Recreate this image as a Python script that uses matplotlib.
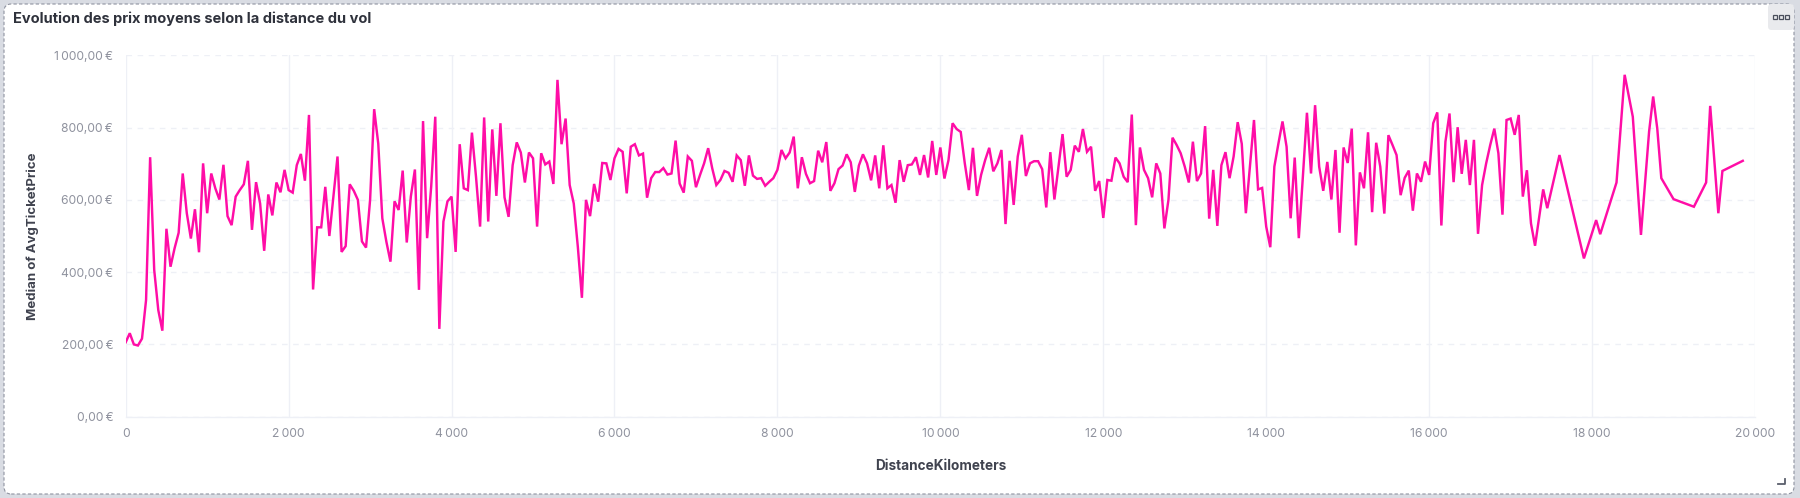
import matplotlib
matplotlib.use("Agg")
import matplotlib.pyplot as plt
from matplotlib.patches import FancyBboxPatch, Rectangle
from matplotlib.ticker import FuncFormatter, FixedLocator

distance_km = [
    0,50,100,150,200,250,300,350,400,450,500,550,600,650,700,750,800,850,900,950,
    1000,1050,1100,1150,1200,1250,1300,1350,1400,1450,1500,1550,1600,1650,1700,1750,1800,1850,1900,1950,
    2000,2050,2100,2150,2200,2250,2300,2350,2400,2450,2500,2550,2600,2650,2700,2750,2800,2850,2900,2950,
    3000,3050,3100,3150,3200,3250,3300,3350,3400,3450,3500,3550,3600,3650,3700,3750,3800,3850,3900,3950,
    4000,4050,4100,4150,4200,4250,4300,4350,4400,4450,4500,4550,4600,4650,4700,4750,4800,4850,4900,4950,
    5000,5050,5100,5150,5200,5250,5300,5350,5400,5450,5500,5550,5600,5650,5700,5750,5800,5850,5900,5950,
    6000,6050,6100,6150,6200,6250,6300,6350,6400,6450,6500,6550,6600,6650,6700,6750,6800,6850,6900,6950,
    7000,7050,7100,7150,7200,7250,7300,7350,7400,7450,7500,7550,7600,7650,7700,7750,7800,7850,7900,7950,
    8000,8050,8100,8150,8200,8250,8300,8350,8400,8450,8500,8550,8600,8650,8700,8750,8800,8850,8900,8950,
    9000,9050,9100,9150,9200,9250,9300,9350,9400,9450,9500,9550,9600,9650,9700,9750,9800,9850,9900,9950,
    10000,10050,10100,10150,10200,10250,10300,10350,10400,10450,10500,10550,10600,10650,10700,10750,10800,10850,10900,10950,
    11000,11050,11100,11150,11200,11250,11300,11350,11400,11450,11500,11550,11600,11650,11700,11750,11800,11850,11900,11950,
    12000,12050,12100,12150,12200,12250,12300,12350,12400,12450,12500,12550,12600,12650,12700,12750,12800,12850,12900,12950,
    13000,13050,13100,13150,13200,13250,13300,13350,13400,13450,13500,13550,13600,13650,13700,13750,13800,13850,13900,13950,
    14000,14050,14100,14150,14200,14250,14300,14350,14400,14450,14500,14550,14600,14650,14700,14750,14800,14850,14900,14950,
    15000,15050,15100,15150,15200,15250,15300,15350,15400,15450,15500,15550,15600,15650,15700,15750,15800,15850,15900,15950,
    16000,16050,16100,16150,16200,16250,16300,16350,16400,16450,16500,16550,16600,16650,16700,16750,16800,16850,16900,16950,
    17000,17050,17100,17150,17200,17250,17300,17400,17450,17600,17900,18050,18100,18300,18400,18500,18600,18700,18750,18800,18850,
    19000,19250,19400,19450,19550,19600,19850,
]
median_price = [
    206,231,200,197,216,323,718,406,295,238,520,415,466,509,673,563,493,574,455,701,
    563,673,632,601,697,555,530,609,627,643,708,517,649,590,459,615,557,648,621,683,
    627,620,696,727,653,835,352,524,524,636,500,609,720,456,472,643,625,600,485,468,
    600,851,756,549,484,429,596,572,681,482,609,684,351,818,494,637,830,243,540,596,
    609,456,754,632,627,786,664,526,828,540,795,611,812,607,553,696,759,731,648,731,
    715,526,729,698,706,644,932,754,825,641,590,470,329,600,555,644,595,702,701,655,
    715,741,733,618,747,754,723,728,606,660,677,677,688,670,673,764,645,620,720,708,
    635,669,701,743,687,641,655,680,675,650,723,710,639,723,667,658,660,639,650,660,
    683,738,715,731,775,632,718,672,646,652,736,704,760,625,646,685,695,726,704,622,
    695,726,701,654,723,632,751,632,641,592,710,650,696,698,718,669,724,662,763,669,
    745,659,710,812,796,788,701,627,744,611,669,710,744,679,701,738,533,708,586,720,
    780,666,701,707,707,685,579,732,601,692,782,664,683,750,733,796,733,747,625,652,
    550,655,653,717,701,664,649,836,530,745,683,660,607,701,673,521,600,772,752,729,
    692,648,761,652,673,804,548,683,528,696,732,660,720,815,755,563,692,821,629,633,
    526,469,692,756,817,747,549,717,494,664,841,673,862,692,625,705,601,738,509,745,
    702,797,474,676,632,787,566,758,692,562,779,752,724,613,661,681,570,673,650,706,
    669,812,842,529,761,839,649,801,672,766,641,766,506,641,701,752,797,729,559,821,
    825,780,835,609,682,535,473,629,577,724,438,544,505,648,946,830,503,789,886,798,660,
    602,581,648,860,563,680,708,
]
x_ticks = [0,2000,4000,6000,8000,10000,12000,14000,16000,18000,20000]
y_ticks = [0,200,400,600,800,1000]
title = "Evolution des prix moyens selon la distance du vol"
x_label = "DistanceKilometers"
y_label = "Median of AvgTicketPrice"

W, H = 1800, 498
plt.rcParams['font.family'] = ['Inter', 'DejaVu Sans']
fig = plt.figure(figsize=(W/100, H/100), dpi=100, facecolor='#d9dce3')
px = lambda x: x/W
py = lambda y: 1 - y/H

panel = FancyBboxPatch((px(4), py(494)), px(1790), 490/H,
                       boxstyle="round,pad=0,rounding_size=0.004", mutation_aspect=W/H,
                       transform=fig.transFigure, facecolor='white', edgecolor='#8f93a0',
                       linewidth=0.8, linestyle=(0, (3, 2)), zorder=0)
fig.add_artist(panel)
btn = FancyBboxPatch((px(1768), py(30)), px(26), 26/H,
                     boxstyle="round,pad=0,rounding_size=0.002", mutation_aspect=W/H,
                     transform=fig.transFigure, facecolor='#e9eaed', edgecolor='none', zorder=1)
fig.add_artist(btn)
for bx in (1772.5, 1778.5, 1784.5):
    fig.add_artist(Rectangle((px(bx), py(19)), px(4), 4/H, transform=fig.transFigure,
                             facecolor='#e9eaed', edgecolor='#4a4f5c', linewidth=0.9, zorder=2))
fig.add_artist(plt.Line2D([px(1778), px(1785), px(1785)], [py(484), py(484), py(479)],
                          transform=fig.transFigure, color='#5a5f6c', linewidth=1.3, zorder=2))

ax = fig.add_axes([px(125.7), py(416.7), px(1755-125.7), (416.7-55.3)/H])
ax.patch.set_alpha(0)
ax.plot(distance_km, median_price, color='#ff0da6', linewidth=1.75, solid_joinstyle='miter', zorder=3)
ax.set_xlim(0, 20000)
ax.set_ylim(0, 1000)
ax.xaxis.set_major_locator(FixedLocator(x_ticks))
ax.yaxis.set_major_locator(FixedLocator(y_ticks))
ax.xaxis.set_major_formatter(FuncFormatter(lambda v, _: f"{int(v):,}".replace(",", "\u2009")))
ax.yaxis.set_major_formatter(FuncFormatter(lambda v, _: f"{v:,.2f}".replace(",", "\u2009").replace(".", ",") + "\u2009€"))
ax.grid(axis='x', color='#eef0f6', linewidth=1.0, linestyle='-', zorder=1)
ax.grid(axis='y', color='#eef0f6', linewidth=1.0, linestyle=(0, (4, 4)), zorder=1)
for side in ('top', 'right', 'left'):
    ax.spines[side].set_visible(False)
ax.spines['bottom'].set_color('#eef0f6')
ax.spines['bottom'].set_linewidth(1.0)
ax.tick_params(axis='both', length=0, labelsize=8.7, labelcolor='#8f929e')
ax.tick_params(axis='x', pad=8)
ax.tick_params(axis='y', pad=9)
ax.set_xlabel(x_label, fontsize=9.8, fontweight='bold', color='#40434f')
ax.xaxis.set_label_coords(0.5, -(466-416.7)/361.4, transform=ax.transAxes)
ax.xaxis.label.set_verticalalignment('center')
ax.set_ylabel(y_label, fontsize=9.5, fontweight='bold', color='#40434f')
ax.yaxis.set_label_coords((32.5-125.7)/1629.3, 0.5, transform=ax.transAxes)
ax.yaxis.label.set_verticalalignment('center')
fig.text(px(13), py(19), title, fontsize=10.5, fontweight='bold', color='#2f323c', va='center', ha='left')
fig.savefig("out.png", dpi=100, facecolor=fig.get_facecolor())
